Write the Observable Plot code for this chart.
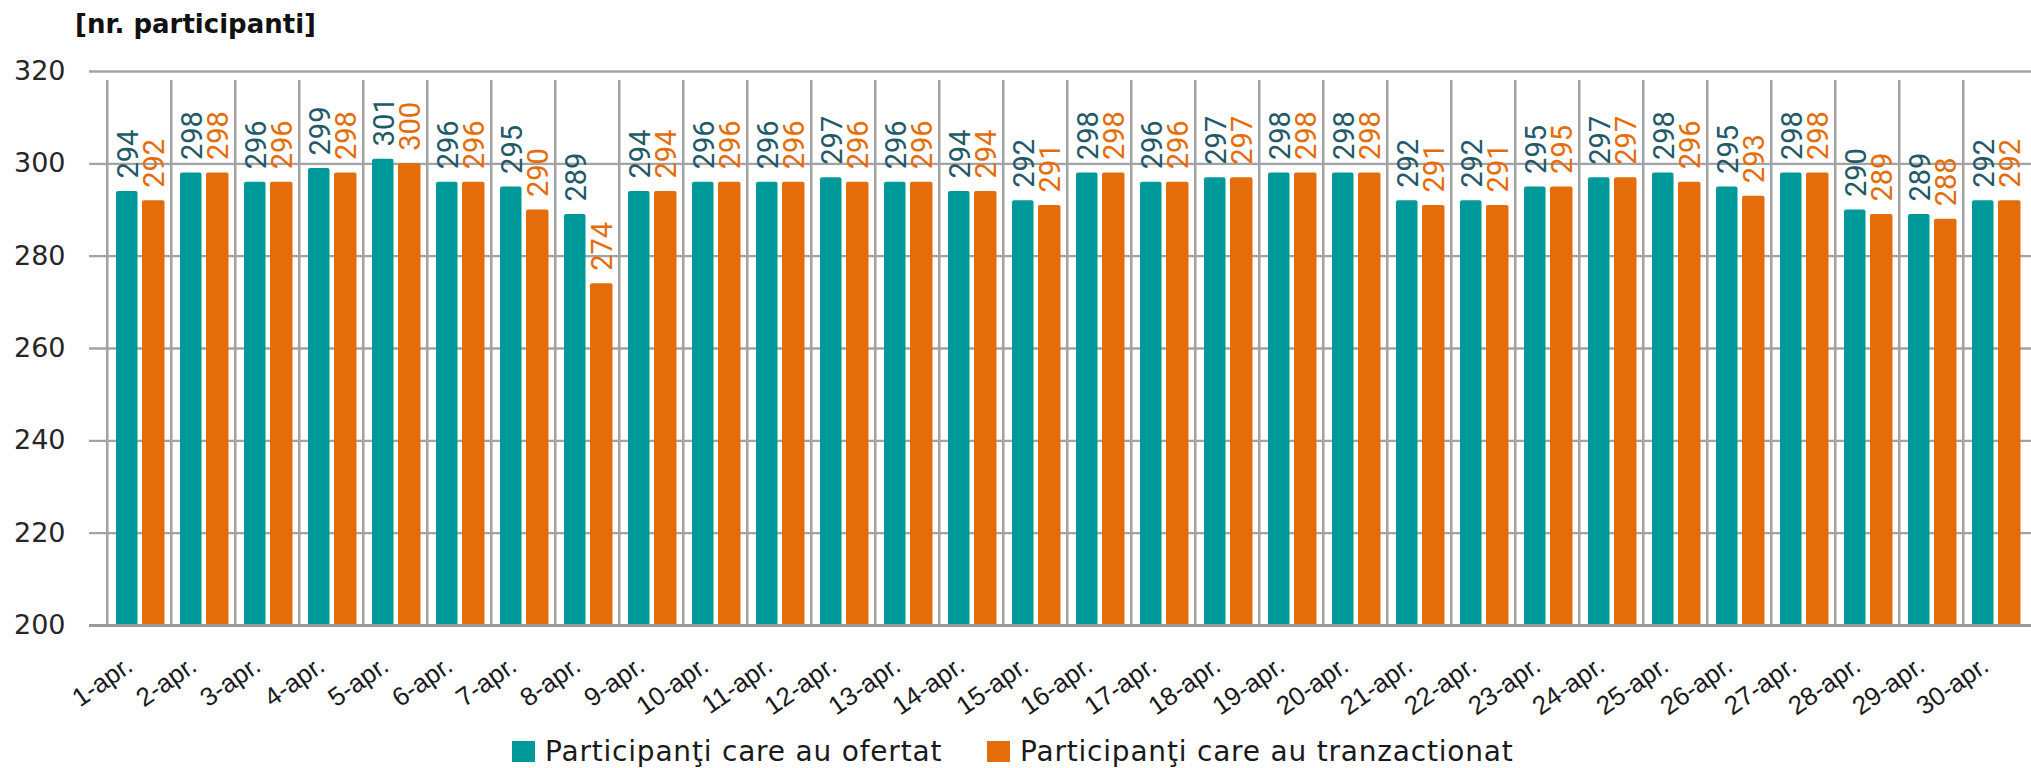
<!DOCTYPE html>
<html><head><meta charset="utf-8">
<script src="https://cdn.jsdelivr.net/npm/d3@7"></script>
<script src="https://cdn.jsdelivr.net/npm/@observablehq/plot@0.6"></script>
<style>
body{margin:0;background:#fff;}
#wrap{position:relative;width:2031px;height:768px;overflow:hidden;background:#fff;}
#title{position:absolute;left:75px;top:9px;font:bold 26px "DejaVu Sans",sans-serif;color:#111;white-space:nowrap;}
#chart{position:absolute;left:0;top:0;}
.item{position:absolute;top:736px;height:30px;line-height:30px;display:flex;align-items:center;white-space:nowrap;font:28px "DejaVu Sans",sans-serif;letter-spacing:0.8px;color:#1a1a1a;}
.sw{width:23px;height:21px;margin-right:10px;}
</style></head>
<body>
<div id="wrap">
  <div id="chart"></div>
  <div id="title">[nr. participanti]</div>
</div>
<script>
const days = ["1-apr.","2-apr.","3-apr.","4-apr.","5-apr.","6-apr.","7-apr.","8-apr.","9-apr.","10-apr.",
  "11-apr.","12-apr.","13-apr.","14-apr.","15-apr.","16-apr.","17-apr.","18-apr.","19-apr.","20-apr.",
  "21-apr.","22-apr.","23-apr.","24-apr.","25-apr.","26-apr.","27-apr.","28-apr.","29-apr.","30-apr."];
const ofertat = [294,298,296,299,301,296,295,289,294,296,296,297,296,294,292,298,296,297,298,298,292,292,295,297,298,295,298,290,289,292];
const tranzactionat = [292,298,296,298,300,296,290,274,294,296,296,296,296,294,291,298,296,297,298,298,291,291,295,297,296,293,298,289,288,292];
const yTicks = [200,220,240,260,280,300,320];
const seriesNames = ["Participanţi care au ofertat","Participanţi care au tranzactionat"];
const barColors = ["#009999","#e46c0a"];
const labelColors = ["#215968","#e46c0a"];

const s0 = days.map((d,i)=>({day:d, value:ofertat[i]}));
const s1 = days.map((d,i)=>({day:d, value:tranzactionat[i]}));
const bw = (2034-99)/days.length;
const grid = "#a3a3a3";
const labelFont = "Roboto,'DejaVu Sans',sans-serif";

const chart = Plot.plot({
  width: 2031,
  height: 705,
  marginLeft: 99,
  marginRight: -3,
  marginTop: 71,
  marginBottom: 80,
  style: {background:"transparent", overflow:"visible"},
  x: {type:"band", domain: days, range:[99,2034], padding:0, axis:null},
  y: {domain:[200,320], range:[625,71], axis:null},
  marks: [
    Plot.ruleY(yTicks.filter(v=>v>200), {y:d=>d, stroke:grid, strokeWidth:2.4, insetLeft:-10}),
    Plot.ruleX(days, {x:d=>d, y1:200, y2:320, dx:-bw/2, stroke:grid, strokeWidth:2.6, insetBottom:-9}),
    Plot.barY(s0, {x:"day", y1:200, y2:"value", fill:barColors[0], insetLeft:9, insetRight:bw-31, rx:2}),
    Plot.barY(s1, {x:"day", y1:200, y2:"value", fill:barColors[1], insetLeft:35, insetRight:bw-58, rx:2}),
    Plot.ruleY([200], {y:d=>d, stroke:"#9a9a9a", strokeWidth:3, insetLeft:-10}),
    Plot.text(s0, {x:"day", y:"value", text:d=>String(d.value), rotate:-90, textAnchor:"start", lineAnchor:"middle",
      dx:21-bw/2, dy:-13, fill:labelColors[0], fontSize:29, fontFamily:labelFont}),
    Plot.text(s1, {x:"day", y:"value", text:d=>String(d.value), rotate:-90, textAnchor:"start", lineAnchor:"middle",
      dx:47.5-bw/2, dy:-13, fill:labelColors[1], fontSize:29, fontFamily:labelFont}),
    Plot.axisY(yTicks, {label:null, tickSize:0, tickPadding:34, fontSize:27, fontFamily:"'DejaVu Sans',sans-serif", fill:"#262626"}),
    Plot.text(days, {x:d=>d, frameAnchor:"bottom", text:d=>d, rotate:-35, textAnchor:"end", lineAnchor:"bottom",
      dx:-5, dy:44, fontSize:26, fontFamily:"'Liberation Sans',Arial,sans-serif", fill:"#1a1a1a"})
  ]
});
document.getElementById("chart").appendChild(chart);

const wrap = document.getElementById("wrap");
const lefts = [512, 987];
seriesNames.forEach((name,i)=>{
  const it = document.createElement("div");
  it.className = "item";
  it.style.left = lefts[i] + "px";
  const sw = document.createElement("span");
  sw.className = "sw";
  sw.style.background = barColors[i];
  const tx = document.createElement("span");
  tx.textContent = name;
  it.appendChild(sw); it.appendChild(tx);
  wrap.appendChild(it);
});
</script>
</body></html>
